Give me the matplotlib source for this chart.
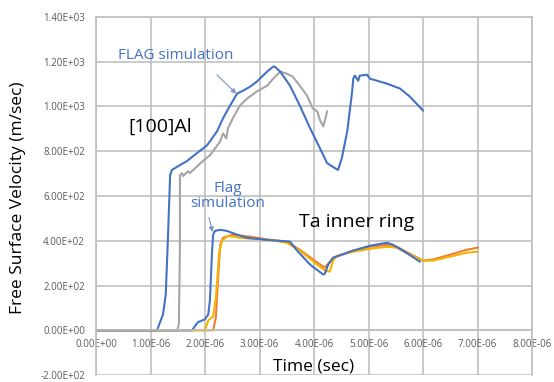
import matplotlib.pyplot as plt
import numpy as np

# times in microseconds, velocities in m/s
al_flag_t = [0.0, 1.12, 1.23, 1.28, 1.32, 1.36, 1.39, 1.54, 1.67, 1.78, 2.04, 2.22, 2.33,
             2.46, 2.59, 2.70, 2.83, 2.95, 3.14, 3.25, 3.28, 3.38, 3.56, 3.74, 3.93, 4.11,
             4.24, 4.33, 4.44, 4.51, 4.61, 4.70, 4.72, 4.75, 4.81, 4.84, 4.97, 5.03, 5.34,
             5.58, 5.76, 6.00]
al_flag_v = [0, 0, 71, 160, 413, 693, 716, 738, 756, 778, 827, 889, 947,
             1004, 1058, 1071, 1089, 1111, 1156, 1178, 1178, 1156, 1093, 1004, 902, 813,
             747, 733, 716, 769, 889, 1067, 1124, 1138, 1115, 1138, 1142, 1124, 1102,
             1080, 1044, 982]

al_exp_t = [0.0, 1.49, 1.52, 1.54, 1.54, 1.58, 1.60, 1.69, 1.72, 1.78, 1.96, 2.09, 2.28,
            2.33, 2.39, 2.42, 2.51, 2.64, 2.77, 2.95, 3.14, 3.25, 3.38, 3.50, 3.61, 3.74,
            3.87, 3.98, 4.06, 4.11, 4.17, 4.20, 4.24]
al_exp_v = [0, 0, 27, 369, 693, 702, 689, 711, 702, 716, 756, 782, 844,
            880, 858, 902, 947, 1004, 1035, 1067, 1093, 1124, 1156, 1147, 1133, 1093,
            1049, 991, 978, 938, 911, 938, 978]

ta_flag_t = [0.0, 1.76, 1.87, 2.00, 2.06, 2.09, 2.13, 2.15, 2.18, 2.28, 2.40, 2.59, 2.77,
             3.14, 3.56, 3.69, 3.93, 4.17, 4.20, 4.26, 4.35, 4.72, 5.03, 5.34, 5.45, 5.63,
             5.94]
ta_flag_v = [0, 0, 36, 49, 71, 133, 356, 427, 444, 449, 444, 427, 413,
             404, 396, 356, 293, 249, 253, 293, 324, 356, 378, 391, 382, 356,
             307]

ta_exp1_t = [0.0, 2.15, 2.20, 2.24, 2.28, 2.33, 2.51, 2.83, 3.19, 3.50, 3.74, 4.06, 4.20,
             4.26, 4.35, 4.72, 5.03, 5.34, 5.52, 5.76, 6.00, 6.18, 6.50, 6.81, 7.00]
ta_exp1_v = [0, 0, 58, 236, 382, 413, 427, 418, 404, 396, 360, 302, 280,
             298, 324, 356, 373, 382, 373, 342, 311, 316, 338, 360, 369]

ta_exp2_t = [0.0, 2.00, 2.06, 2.15, 2.20, 2.26, 2.31, 2.42, 2.64, 3.19, 3.50, 3.74, 4.06,
             4.20, 4.29, 4.35, 4.42, 4.72, 5.03, 5.34, 5.52, 5.76, 6.00, 6.18, 6.50, 6.81,
             7.00]
ta_exp2_v = [0, 0, 44, 62, 147, 347, 400, 422, 413, 404, 391, 356, 293,
             267, 262, 311, 333, 351, 364, 373, 369, 338, 311, 311, 329, 347,
             351]

x_ticks = np.arange(0, 9) * 1e-6
y_ticks = np.arange(-200, 1401, 200)

BLUE = "#4472C4"
GRAY = "#A5A5A5"
ORANGE = "#ED7D31"
GOLD = "#F5B300"
GRID = "#C0C0C0"

plt.rcParams["font.family"] = ["Open Sans", "DejaVu Sans"]

fig = plt.figure(figsize=(5.54, 3.82), dpi=100)
ax = fig.add_axes([96 / 554, 7 / 382, 436 / 554, 358 / 382])

us = 1e-6
ax.plot(np.array(al_exp_t) * us, al_exp_v, color=GRAY, lw=1.5)
ax.plot(np.array(al_flag_t) * us, al_flag_v, color=BLUE, lw=1.5)
ax.plot(np.array(ta_exp1_t) * us, ta_exp1_v, color=ORANGE, lw=1.5)
ax.plot(np.array(ta_exp2_t) * us, ta_exp2_v, color=GOLD, lw=1.5)
ax.plot(np.array(ta_flag_t) * us, ta_flag_v, color=BLUE, lw=1.5)

ax.set_xlim(0, 8e-6)
ax.set_ylim(-200, 1400)
ax.set_xticks(x_ticks)
ax.set_xticklabels([f"{t:.2E}" for t in x_ticks])
ax.set_yticks(y_ticks)
ax.set_yticklabels([f"{v:.2E}" for v in y_ticks])
ax.grid(True, color=GRID, lw=1.2)
ax.set_axisbelow(True)

# horizontal axis crosses at zero, labels sit just under it
ax.spines["bottom"].set_position(("data", 0))
for side in ["left", "right", "top", "bottom"]:
    ax.spines[side].set_color(GRID)
    ax.spines[side].set_linewidth(1.2)
ax.tick_params(length=0, labelsize=7, labelcolor="#595959")
ax.tick_params(axis="y", pad=8)
ax.tick_params(axis="x", pad=6)

fig.text(18 / 554, 1 - 198 / 382, "Free Surface Velocity (m/sec)", fontsize=12.5,
         rotation=90, ha="center", va="center")
ax.text(4.0e-6, -125, "Time (sec)", fontsize=12.5, ha="center", va="top")

ax.text(1.47e-6, 1227, "FLAG simulation", color=BLUE, fontsize=11,
        ha="center", va="center")
ax.annotate("", xy=(2.61e-6, 1049), xytext=(2.18e-6, 1151),
            arrowprops=dict(arrowstyle="-|>", color="#7C93C2", lw=0.8,
                            mutation_scale=7))
ax.text(1.17e-6, 911, "[100]Al", fontsize=14, ha="center", va="center")

ax.text(2.42e-6, 600, "Flag\nsimulation", color=BLUE, fontsize=11,
        ha="center", va="center", linespacing=0.95)
ax.annotate("", xy=(2.15e-6, 427), xytext=(2.06e-6, 516),
            arrowprops=dict(arrowstyle="-|>", color="#7C93C2", lw=0.8,
                            mutation_scale=7))
ax.text(4.79e-6, 484, "Ta inner ring", fontsize=14, ha="center", va="center")

fig.savefig("out.png", dpi=100)
